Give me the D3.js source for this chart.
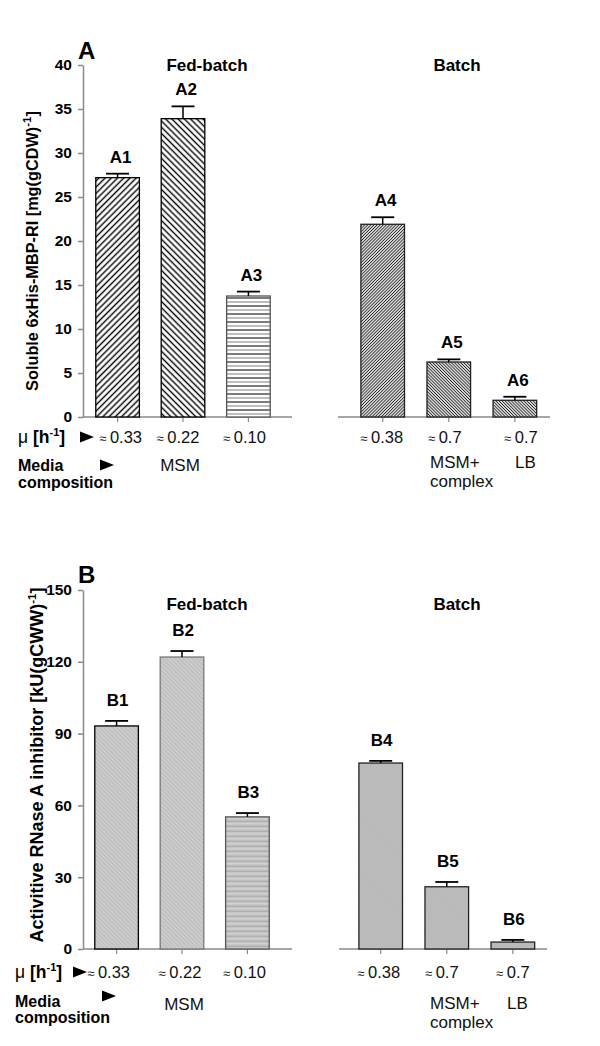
<!DOCTYPE html>
<html><head><meta charset="utf-8">
<script src="https://cdn.jsdelivr.net/npm/d3@7"></script>
<style>
html,body{margin:0;padding:0;background:#fff;}
svg{display:block;font-family:"Liberation Sans",Arial,sans-serif;}
</style></head>
<body>
<svg id="chart" width="600" height="1046"></svg>
<script>
// ---------- DATA ----------
const categoriesA = ["A1","A2","A3","A4","A5","A6"];
const valuesA = [27.2, 33.9, 13.75, 21.9, 6.25, 1.9];
const errorsA = [0.45, 1.4, 0.5, 0.8, 0.3, 0.4];
const categoriesB = ["B1","B2","B3","B4","B5","B6"];
const valuesB = [93.2, 122, 55.2, 77.7, 26, 2.9];
const errorsB = [2.1, 2.5, 1.6, 0.9, 2.0, 0.9];
const growthRates = ["0.33","0.22","0.10","0.38","0.7","0.7"];
const groupTitles = ["Fed-batch","Batch"];
const yTicksA = [0,5,10,15,20,25,30,35,40];
const yTicksB = [0,30,60,90,120,150];
const yLabelA = ["Soluble 6xHis-MBP-RI [mg(gCDW)", "-1", "]"];
const yLabelB = ["Activitive RNase A inhibitor [kU(gCWW)", "-1", "]"];

// ---------- SETUP ----------
const svg = d3.select("#chart");
const defs = svg.append("defs");

function linePattern(id, bg, stroke, sw, spacing, angle) {
  const p = defs.append("pattern").attr("id", id).attr("patternUnits","userSpaceOnUse")
    .attr("width", spacing).attr("height", spacing)
    .attr("patternTransform", `rotate(${angle})`);
  p.append("rect").attr("width", spacing).attr("height", spacing).attr("fill", bg);
  p.append("line").attr("x1", spacing/2).attr("x2", spacing/2).attr("y1", 0).attr("y2", spacing)
    .attr("stroke", stroke).attr("stroke-width", sw);
}
function horizPattern(id, bg, c1, c2, spacing, sw) {
  const p = defs.append("pattern").attr("id", id).attr("patternUnits","userSpaceOnUse")
    .attr("width", 4).attr("height", spacing*2);
  p.append("rect").attr("width", 4).attr("height", spacing*2).attr("fill", bg);
  p.append("line").attr("x1",0).attr("x2",4).attr("y1",spacing*0.5).attr("y2",spacing*0.5).attr("stroke",c1).attr("stroke-width",sw);
  p.append("line").attr("x1",0).attr("x2",4).attr("y1",spacing*1.5).attr("y2",spacing*1.5).attr("stroke",c2).attr("stroke-width",sw);
}
linePattern("pA1", "#fff", "#000", 1.4, 4.4, 45);
linePattern("pA2", "#fff", "#000", 1.4, 4.4, -45);
horizPattern("pA3", "#fff", "#111", "#888", 4, 1.1);
linePattern("pA4", "#fff", "#222", 1.0, 2.2, 45);
linePattern("pA5", "#fff", "#222", 1.0, 2.2, -45);
linePattern("pB1", "#c0c0c0", "#d2d2d2", 1.0, 3, -45);
horizPattern("pB3", "#c4c4c4", "#a9a9a9", "#d4d4d4", 2.5, 1);
linePattern("pB4", "#c2c2c2", "#b2b2b2", 1.0, 2.2, -45);

const panels = [
  { letter:"A", letterY:59, cats:categoriesA, vals:valuesA, errs:errorsA, ticks:yTicksA, yMax:40,
    yTop:65, yZero:417, leftRange:[84,282], rightRange:[349,549],
    baseL:[83,292], baseR:[338,550], titleY:71, yLabel:yLabelA, yLabelSize:16.3, yLabelX:38, yLabelY:251,
    fills:["pA1","pA2","pA3","pA4","pA5","pA5"], strokes:["#000","#000","#555","#222","#222","#222"],
    labelGap:11, labelDx:3, muY:443, muX:18, muArrowX:80, mediaY:471, compY:488, mediaArrowX:100, mediaArrowY:465,
    muDx:[3,-5,-4,-1,-4,6], msmX:180, msmY:471, msmPlusX:430, msmPlusY:468, complexY:487, lbX:515 },
  { letter:"B", letterY:583, cats:categoriesB, vals:valuesB, errs:errorsB, ticks:yTicksB, yMax:150,
    yTop:590, yZero:949, leftRange:[83,281], rightRange:[347,547],
    baseL:[83,292], baseR:[339,547], titleY:610, yLabel:yLabelB, yLabelSize:18, yLabelX:43, yLabelY:765,
    fills:["pB1","pB1","pB3","pB4","pB4","pB4"], strokes:["#000","#777","#555","#222","#222","#222"],
    labelGap:15, labelDx:1, muY:978, muX:15, muArrowX:73, mediaY:1007, compY:1023, mediaArrowX:102, mediaArrowY:996,
    muDx:[-8,-2,-3,-2,-5,0], msmX:184, msmY:1010, msmPlusX:430, msmPlusY:1009, complexY:1028, lbX:507 }
];

const axisColor = "#8a8a8a";

function triangle(g, x, y, w, h) {
  g.append("path").attr("d", `M${x},${y-h/2}L${x+w},${y}L${x},${y+h/2}Z`).attr("fill","#000");
}

panels.forEach(P => {
  const g = svg.append("g");
  const y = d3.scaleLinear().domain([0, P.yMax]).range([P.yZero, P.yTop]);
  const xL = d3.scaleBand().domain(P.cats.slice(0,3)).range(P.leftRange).paddingInner(1/3).paddingOuter(0.18);
  const xR = d3.scaleBand().domain(P.cats.slice(3)).range(P.rightRange).paddingInner(1/3).paddingOuter(0.18);
  const xOf = c => (xL.domain().includes(c) ? xL(c) : xR(c));
  const bw = xL.bandwidth();

  // y axis
  const ax = g.append("g").attr("transform", `translate(83,0)`)
    .call(d3.axisLeft(y).tickValues(P.ticks).tickSize(5).tickSizeOuter(0).tickPadding(6).tickFormat(d3.format("d")));
  ax.select(".domain").attr("stroke", axisColor).attr("stroke-width", 1.5);
  ax.selectAll(".tick line").attr("stroke", axisColor).attr("stroke-width", 1.5);
  ax.selectAll(".tick text").attr("font-size", 15.5).attr("font-weight", "bold").attr("fill", "#000")
    .attr("font-family", '"Liberation Sans",Arial,sans-serif');

  // baselines
  [P.baseL, P.baseR].forEach(b => {
    g.append("line").attr("x1", b[0]).attr("x2", b[1]).attr("y1", y(0)).attr("y2", y(0))
      .attr("stroke", axisColor).attr("stroke-width", 1.5);
  });
  // x ticks
  g.selectAll(".xt").data(P.cats).enter().append("line")
    .attr("x1", c => xOf(c) + bw/2).attr("x2", c => xOf(c) + bw/2)
    .attr("y1", y(0)).attr("y2", y(0) + 5).attr("stroke", axisColor).attr("stroke-width", 1.2);

  // bars
  const data = P.cats.map((c, i) => ({c, v:P.vals[i], e:P.errs[i], i}));
  g.selectAll(".bar").data(data).enter().append("rect")
    .attr("x", d => xOf(d.c)).attr("width", bw)
    .attr("y", d => y(d.v)).attr("height", d => y(0) - y(d.v))
    .attr("fill", d => `url(#${P.fills[d.i]})`)
    .attr("stroke", d => P.strokes[d.i]).attr("stroke-width", 1.3);

  // error bars
  data.forEach(d => {
    const cx = xOf(d.c) + bw/2;
    g.append("line").attr("x1", cx).attr("x2", cx).attr("y1", y(d.v)).attr("y2", y(d.v + d.e))
      .attr("stroke", "#000").attr("stroke-width", 1.5);
    g.append("line").attr("x1", cx - 11.5).attr("x2", cx + 11.5).attr("y1", y(d.v + d.e)).attr("y2", y(d.v + d.e))
      .attr("stroke", "#000").attr("stroke-width", 1.8);
    g.append("text").attr("x", cx + P.labelDx).attr("y", y(d.v + d.e) - P.labelGap)
      .attr("text-anchor", "middle").attr("font-size", 17).attr("font-weight", "bold").text(d.c);
  });

  // panel letter
  g.append("text").attr("x", 78).attr("y", P.letterY).attr("font-size", 24).attr("font-weight", "bold").text(P.letter);
  // group titles
  g.append("text").attr("x", 207).attr("y", P.titleY).attr("text-anchor","middle")
    .attr("font-size", 17).attr("font-weight","bold").text(groupTitles[0]);
  g.append("text").attr("x", 457).attr("y", P.titleY).attr("text-anchor","middle")
    .attr("font-size", 17).attr("font-weight","bold").text(groupTitles[1]);

  // y label
  const yl = g.append("text").attr("transform", `translate(${P.yLabelX},${P.yLabelY}) rotate(-90)`)
    .attr("text-anchor","middle").attr("font-size", P.yLabelSize).attr("font-weight","bold");
  yl.append("tspan").text(P.yLabel[0]);
  yl.append("tspan").attr("font-size", 11.5).attr("dy", -7).text(P.yLabel[1]);
  yl.append("tspan").attr("dy", 7).text(P.yLabel[2]);

  // mu row
  const mu = g.append("text").attr("x", P.muX).attr("y", P.muY).attr("font-size", 17.5).attr("font-weight","bold");
  mu.append("tspan").attr("font-weight","normal").text("μ");
  mu.append("tspan").text(" [h");
  mu.append("tspan").attr("font-size", 11).attr("dy", -7).text("-1");
  mu.append("tspan").attr("dy", 7).text("]");
  triangle(g, P.muArrowX, P.muY - 6, 14, 11);

  P.cats.forEach((c, i) => {
    const t = g.append("text").attr("x", xOf(c) + bw/2 + P.muDx[i]).attr("y", P.muY)
      .attr("text-anchor","middle").attr("font-size", 16.5).attr("fill","#111");
    t.append("tspan").attr("font-size", 13).text("≈ ");
    t.append("tspan").text(growthRates[i]);
  });

  // media composition
  g.append("text").attr("x", P.muX).attr("y", P.mediaY).attr("font-size", 16).attr("font-weight","bold").text("Media");
  g.append("text").attr("x", P.muX).attr("y", P.compY).attr("font-size", 16).attr("font-weight","bold").text("composition");
  triangle(g, P.mediaArrowX, P.mediaArrowY, 14, 11);
  g.append("text").attr("x", P.msmX).attr("y", P.msmY).attr("text-anchor","middle").attr("font-size", 17).attr("fill","#111").text("MSM");
  g.append("text").attr("x", P.msmPlusX).attr("y", P.msmPlusY).attr("font-size", 17).attr("fill","#111").text("MSM+");
  g.append("text").attr("x", P.msmPlusX).attr("y", P.complexY).attr("font-size", 17).attr("fill","#111").text("complex");
  g.append("text").attr("x", P.lbX).attr("y", P.msmPlusY).attr("font-size", 17).attr("fill","#111").text("LB");
});
</script>
</body></html>
